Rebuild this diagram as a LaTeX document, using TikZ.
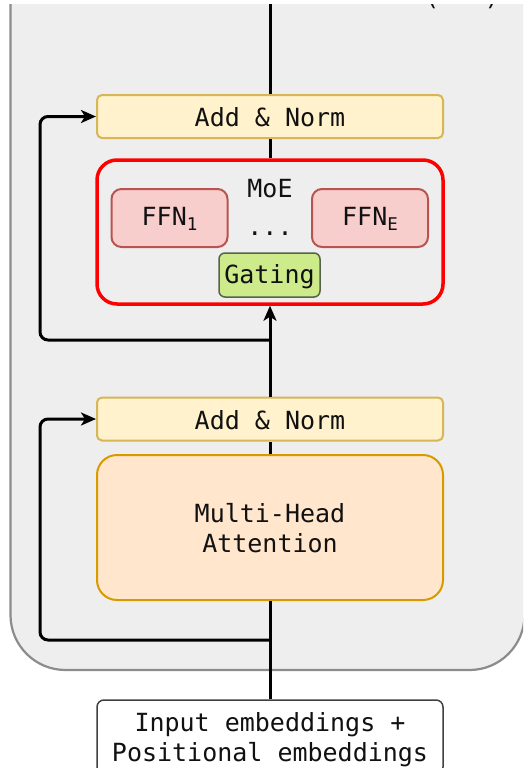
\documentclass[tikz,border=0pt]{standalone}
\usepackage{fontspec}
\setmainfont{DejaVu Sans Mono}
\usetikzlibrary{arrows.meta}
\definecolor{contfill}{HTML}{EEEEEE}
\definecolor{contline}{HTML}{8C8C8C}
\definecolor{yelfill}{HTML}{FFF2CC}
\definecolor{yelline}{HTML}{D6B656}
\definecolor{orfill}{HTML}{FFE6CC}
\definecolor{orline}{HTML}{D79B00}
\definecolor{redfill}{HTML}{F8CECC}
\definecolor{redline}{HTML}{B85450}
\definecolor{grfill}{HTML}{CDEB8B}
\definecolor{grline}{HTML}{56624A}
\definecolor{moered}{HTML}{FF0000}
\definecolor{txt}{HTML}{111111}
\newcommand\subtxt[1]{\raisebox{-5pt}{\fontsize{17.5}{17.5}\selectfont #1}}
\tikzset{
  box/.style={draw, inner sep=0pt, line width=2pt},
  addnorm/.style={box, fill=yelfill, draw=yelline, rounded corners=5pt,
    minimum width=346pt, minimum height=43pt},
  moebox/.style={box, draw=moered, line width=3.5pt, rounded corners=20pt,
    minimum width=346pt, minimum height=144pt},
  ffnbox/.style={box, fill=redfill, draw=redline, rounded corners=10pt,
    minimum width=116pt, minimum height=58pt},
  gatebox/.style={box, fill=grfill, draw=grline, line width=1.5pt, rounded corners=6pt,
    minimum width=101pt, minimum height=44pt},
  mhabox/.style={box, fill=orfill, draw=orline, rounded corners=20pt,
    minimum width=346pt, minimum height=145pt},
  inpbox/.style={box, fill=white, draw=black!75, line width=1.5pt, rounded corners=7pt,
    minimum width=346pt, minimum height=74pt},
  lbl/.style={anchor=base, inner sep=0pt, text=txt},
  conn/.style={line width=3pt, black},
  arr/.style={conn, -{Stealth[length=15pt,width=13pt,inset=4pt]}},
}
\begin{document}
\begin{tikzpicture}[x=1pt, y=-1pt, font=\fontsize{25}{30}\selectfont]
\useasboundingbox (0,0) rectangle (523,768);
\fill[white] (0,0) rectangle (523,768);
\begin{scope}
\clip (0,5) rectangle (523,768);
% container
\draw[fill=contfill, draw=contline, line width=2.2pt, rounded corners=55pt]
  (10.5,-120) rectangle (524.5,670);
\node[lbl] (rep) at (462,5.5) {(\phantom{NNN})};

% boxes
\node[addnorm] (an2) at (270,116.5) {};
\node[moebox]  (moe) at (270,232) {};
\node[ffnbox]  (ffn1) at (169.5,218) {};
\node[ffnbox]  (ffnE) at (370,218) {};
\node[gatebox] (gate) at (269.5,275) {};
\node[addnorm] (an1) at (270,419) {};
\node[mhabox]  (mha) at (270,527.5) {};
\node[inpbox]  (inp) at (270,737) {};

% labels
\node[lbl] (an2t) at (270,126) {Add \& Norm};
\node[lbl] (moet) at (270,197) {MoE};
\node[lbl] (ffn1t) at (169.5,225) {FFN\subtxt{1}};
\node[lbl] (ffnEt) at (370,225) {FFN\subtxt{E}};
\node[lbl] (dots) at (270,235) {...};
\node[lbl] (gatet) at (269.5,283) {Gating};
\node[lbl] (an1t) at (270,429) {Add \& Norm};
\node[lbl] (mhat1) at (270,522) {Multi-Head};
\node[lbl] (mhat2) at (270,552) {Attention};
\node[lbl] (inpt1) at (270,731.5) {Input embeddings +};
\node[lbl] (inpt2) at (270,761.5) {Positional embeddings};

% connectors
\coordinate (top) at (270,0);
\coordinate (s1) at (270,640);
\coordinate (s2) at (270,340);
\coordinate (lx) at (40,0);
\draw[conn] (top) -- (an2.north);
\draw[conn] (an2.south) -- (moe.north);
\draw[arr] (an1.north) -- (moe.south);
\draw[conn] (mha.north) -- (an1.south);
\draw[conn] (inp.north) -- (mha.south);
\draw[arr, rounded corners=8pt] (s1) -- (s1 -| lx) -- (lx |- an1.west) -- (an1.west);
\draw[arr, rounded corners=8pt] (s2) -- (s2 -| lx) -- (lx |- an2.west) -- (an2.west);
\end{scope}
\end{tikzpicture}
\end{document}
